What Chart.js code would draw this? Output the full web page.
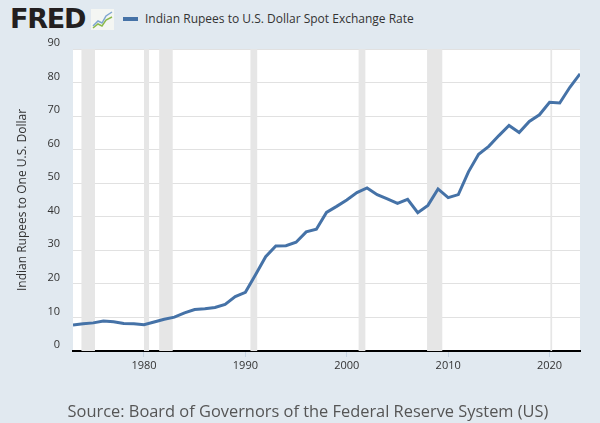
<!DOCTYPE html>
<html>
<head>
<meta charset="utf-8">
<script src="https://cdn.jsdelivr.net/npm/chart.js@4.4.0/dist/chart.umd.min.js"></script>
<style>
  html, body { margin: 0; padding: 0; background: #e1e9f0; }
  body { width: 600px; height: 423px; position: relative; overflow: hidden; font-family: "Open Sans", sans-serif; }
  #logo { position: absolute; left: 10px; top: 4px; font: bold 26px "DejaVu Sans", sans-serif; color: #231f20; letter-spacing: -1.2px; transform-origin: left top; transform: scaleX(1.04); }
  #icon { position: absolute; left: 91px; top: 9px; }
  #legend { position: absolute; left: 123px; top: 10px; font-size: 12px; color: #333; }
  #legend span.swatch { display: inline-block; width: 15px; height: 4px; background: #4572a7; vertical-align: middle; margin-right: 7px; position: relative; top: -1px; }
  #wrap { position: absolute; left: 0; top: 0; width: 600px; height: 423px; }
  #source { position: absolute; left: 0; width: 616px; top: 399px; text-align: center; font-size: 16.4px; color: #555; }
</style>
</head>
<body>
<div id="logo">FRED</div>
<svg id="icon" width="23" height="21" viewBox="0 0 23 21">
  <rect x="0" y="0" width="23" height="21" fill="#f4f6f3"/>
  <polyline points="2,17 7,12 11,14 15,7 21,3" fill="none" stroke="#7fa6d0" stroke-width="1.5"/>
  <polyline points="2,19 7,15 11,17 15,11 21,8" fill="none" stroke="#8cba4b" stroke-width="1.5"/>
</svg>
<div id="legend"><span class="swatch"></span>Indian Rupees to U.S. Dollar Spot Exchange Rate</div>
<div id="wrap"><canvas id="chart"></canvas></div>
<div id="source">Source: Board of Governors of the Federal Reserve System (US)</div>

<script>
// annual data, one value per year
const years = [1973, 1974, 1975, 1976, 1977, 1978, 1979, 1980, 1981, 1982,
  1983, 1984, 1985, 1986, 1987, 1988, 1989, 1990, 1991, 1992,
  1993, 1994, 1995, 1996, 1997, 1998, 1999, 2000, 2001, 2002,
  2003, 2004, 2005, 2006, 2007, 2008, 2009, 2010, 2011, 2012,
  2013, 2014, 2015, 2016, 2017, 2018, 2019, 2020, 2021, 2022, 2023];
const rupees = [7.74, 8.10, 8.38, 8.96, 8.74, 8.19, 8.13, 7.86, 8.66, 9.46,
  10.1, 11.36, 12.34, 12.6, 12.95, 13.9, 16.2, 17.5, 22.7, 28.1,
  31.3, 31.4, 32.4, 35.5, 36.3, 41.3, 43.1, 45.0, 47.2, 48.6,
  46.6, 45.3, 44.0, 45.2, 41.2, 43.4, 48.3, 45.7, 46.6, 53.4,
  58.6, 61.0, 64.2, 67.2, 65.1, 68.4, 70.4, 74.1, 73.9, 78.6, 82.6];
const xTicks = [1980, 1990, 2000, 2010, 2020];
const yTicks = [0, 10, 20, 30, 40, 50, 60, 70, 80, 90];

// recessions as [start, end] year-month
const recessionStarts = ["1973-11", "1980-01", "1981-07", "1990-07", "2001-03", "2007-12", "2020-02"];
const recessionEnds   = ["1975-03", "1980-07", "1982-11", "1991-03", "2001-11", "2009-06", "2020-04"];

const toYear = s => {
  const [y, m] = s.split("-").map(Number);
  return y + (m - 1) / 12;
};

const recessionPlugin = {
  id: "recessions",
  beforeDatasetsDraw(chart) {
    const { ctx, chartArea, scales } = chart;
    ctx.save();
    ctx.fillStyle = "#e6e6e6";
    recessionStarts.forEach((s, i) => {
      const x1 = scales.x.getPixelForValue(toYear(s));
      const x2 = scales.x.getPixelForValue(toYear(recessionEnds[i]));
      ctx.fillRect(x1, chartArea.top, Math.max(x2 - x1, 1), chartArea.bottom - chartArea.top);
    });
    ctx.restore();
  }
};

const plotBg = {
  id: "plotBg",
  beforeDraw(chart) {
    const { ctx, chartArea } = chart;
    ctx.save();
    ctx.fillStyle = "#ffffff";
    ctx.fillRect(chartArea.left, chartArea.top, chartArea.right - chartArea.left, chartArea.bottom - chartArea.top);
    ctx.restore();
  }
};

new Chart(document.getElementById("chart"), {
  type: "line",
  data: {
    datasets: [{
      label: "Indian Rupees to U.S. Dollar Spot Exchange Rate",
      data: years.map((y, i) => ({ x: y, y: rupees[i] })),
      borderColor: "#4572a7",
      borderWidth: 3,
      pointRadius: 0,
      tension: 0
    }]
  },
  options: {
    responsive: true,
    maintainAspectRatio: false,
    animation: false,
    layout: { padding: { left: 0, right: 20, top: 49, bottom: 42 } },
    plugins: {
      legend: { display: false },
      tooltip: { enabled: false }
    },
    scales: {
      x: {
        type: "linear",
        min: 1973,
        max: 2023,
        afterBuildTicks: s => { s.ticks = xTicks.map(v => ({ value: v })); },
        afterFit: s => { s.height = 30; },
        grid: { drawOnChartArea: false, drawTicks: true, tickLength: 6, color: "#c5d3e2" },
        border: { display: true, color: "#000", width: 2 },
        ticks: { color: "#333", font: { family: "Open Sans", size: 11 }, padding: 2, maxRotation: 0,
          callback: v => String(v) }
      },
      y: {
        min: 0,
        max: 90,
        afterBuildTicks: s => { s.ticks = yTicks.map(v => ({ value: v })); },
        afterFit: s => { s.width = 73; },
        grid: { color: "#e1e1e1", drawTicks: false },
        border: { display: false },
        ticks: { color: "#333", font: { family: "Open Sans", size: 11 }, padding: 13, labelOffset: -6 },
        title: {
          display: true,
          text: "Indian Rupees to One U.S. Dollar",
          color: "#333",
          font: { family: "Open Sans", size: 12 },
          padding: { top: 15, bottom: 0 }
        }
      }
    }
  },
  plugins: [plotBg, recessionPlugin]
});
</script>
</body>
</html>
